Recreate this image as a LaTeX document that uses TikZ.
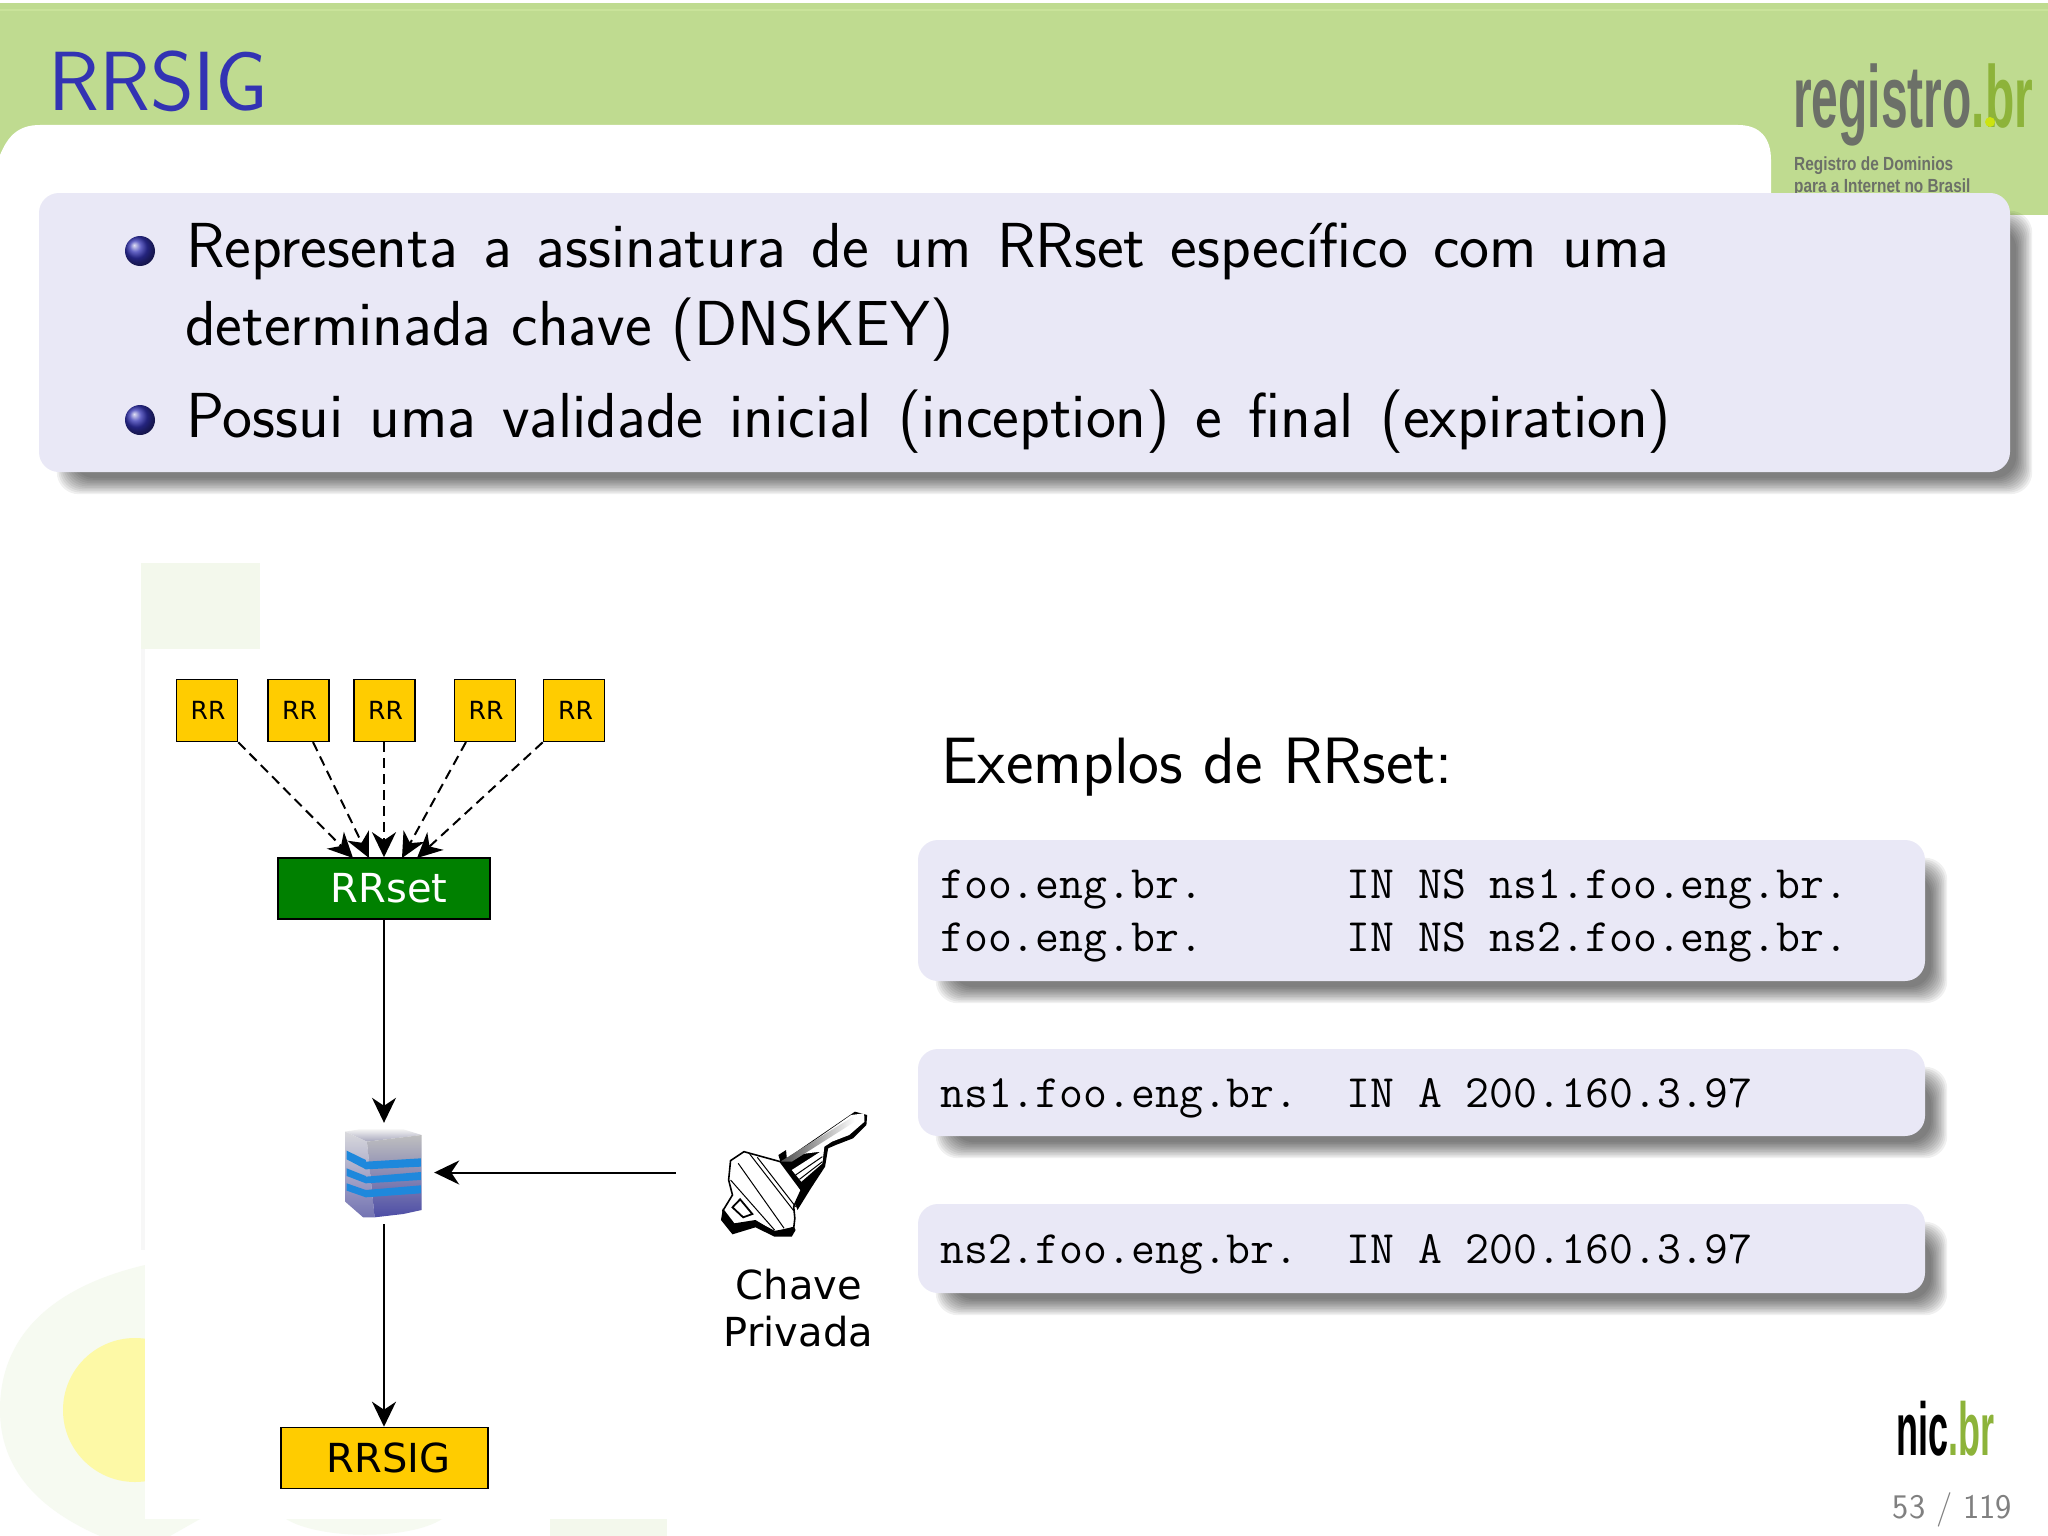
\documentclass[tikz,border=0pt]{standalone}
\usepackage{fontspec}
\usepackage{graphicx}
\usetikzlibrary{arrows.meta,calc}
\newfontfamily\dejavu{DejaVu Sans}
\newfontfamily\logofont{Liberation Sans}
\definecolor{headgreen}{HTML}{BFDB90}
\definecolor{headline}{HTML}{C9E39A}
\definecolor{blockfill}{HTML}{E9E8F6}
\definecolor{titleblue}{HTML}{3333B3}
\definecolor{rryellow}{HTML}{FFCC00}
\definecolor{rrgreen}{HTML}{008000}
\definecolor{logogray}{HTML}{6C7068}
\definecolor{logogreen}{HTML}{8DB33A}
\definecolor{palegreen}{HTML}{F3F8EC}
\definecolor{faintgreen}{HTML}{F6FAF1}
\definecolor{paleyellow}{HTML}{FDF9A6}
\definecolor{stripeblue}{HTML}{1E88DC}
\newcommand{\softshadow}[1]{%
	\foreach \grow in {8,6.4,4.8,3.2,1.6,0,-1.6,-3.2,-4.8,-6.4,-8}
		\fill[black,opacity=0.06,rounded corners=22pt] ($(#1.south west)+(26-\grow,14+\grow)$) rectangle ($(#1.north east)+(14+\grow,26-\grow)$);
}
\begin{document}
\begin{tikzpicture}[x=1pt,y=-1pt]
	\tikzstyle{slide text}=[anchor=base west,inner sep=0,font=\sffamily\fontsize{63.6}{63.6}\selectfont]
	\tikzstyle{code text}=[anchor=base west,inner sep=0,font=\ttfamily\fontsize{46.4}{46.4}\selectfont]
	\tikzset{
		rr node/.style={draw,line width=1.6pt,fill=rryellow,inner sep=0,minimum width=61pt,minimum height=62pt,font=\dejavu\fontsize{25}{25}\selectfont},
		big node/.style={draw,line width=1.6pt,inner sep=0,minimum height=61pt,font=\dejavu\fontsize{40}{40}\selectfont},
		shadow block/.style={fill=blockfill,rounded corners=20pt,inner sep=0},
		link/.style={line width=2pt,-{Stealth[length=25pt,width=24pt,inset=8pt]}},
		dash link/.style={link,dash pattern=on 10pt off 6pt}
	}
	\useasboundingbox (0,0) rectangle (2048,1536);
	\fill[white] (0,0) rectangle (2048,1536);
	% watermark behind the figure
	\fill[faintgreen] (145,1265) .. controls (60,1285) and (0,1330) .. (0,1410) .. controls (0,1470) and (40,1510) .. (100,1536) -- (170,1536) -- (200,1519) -- (145,1519) -- cycle;
	\fill[faintgreen] (286,1519) .. controls (320,1540) and (410,1540) .. (442,1519) -- cycle;
	\fill[paleyellow] (135,1410) circle[radius=72];
	\fill[palegreen] (550,1519) rectangle (667,1536);
	\fill[palegreen] (141,563) rectangle (260,649);
	\fill[white] (145,649) rectangle (900,1519);
	\fill[white!97!black] (141,649) rectangle (145,1250);
	% header
	\fill[headgreen] (0,3) rectangle (2048,215);
	\fill[headline] (0,9) rectangle (2048,11);
	\fill[white] (0,215) -- (0,155) .. controls (8,136) and (18,125) .. (40,125) -- (1738,125) .. controls (1760,125) and (1771,138) .. (1771,160) -- (1771,215) -- cycle;
	\node (title) at (48,111) [anchor=base west,inner sep=0,text=titleblue,font=\sffamily\fontsize{84}{84}\selectfont] {RRSIG};
	\node (registro) at (1793,128) [anchor=base west,inner sep=0,font=\logofont\bfseries\fontsize{88}{88}\selectfont] {\scalebox{0.545}[1]{\textcolor{logogray}{registro}\textcolor{logogreen}{.br}}};
	\fill[yellow!80!green] (1990,122) circle[radius=5];
	\node (regline1) at (1794,171) [anchor=base west,inner sep=0,text=logogray,font=\logofont\bfseries\fontsize{19}{19}\selectfont] {\scalebox{0.81}[1]{Registro de Dominios}};
	\node (regline2) at (1794,192) [anchor=base west,inner sep=0,text=logogray,font=\logofont\bfseries\fontsize{19}{19}\selectfont] {\scalebox{0.81}[1]{para a Internet no Brasil}};
	% top block
	\coordinate (topblock) at (1024.5,332.5);
	\node (topblockshadow) at (topblock) [minimum width=1971pt,minimum height=279pt,inner sep=0] {};
	\softshadow{topblockshadow}
	\node (topblockbox) at (topblock) [shadow block,minimum width=1971pt,minimum height=279pt] {};
	\shade[ball color=titleblue] (140,251) circle[radius=15];
	\shade[ball color=titleblue] (140,420) circle[radius=15];
	\node (line1) at (186,267) [slide text] {\makebox[1483pt][s]{Representa a assinatura de um RRset específico com uma}};
	\node (line2) at (185,345) [slide text] {determinada chave (DNSKEY)};
	\node (line3) at (186,437) [slide text] {\makebox[1485pt][s]{Possui uma validade inicial (inception) e final (expiration)}};
	% figure
	\node (rr1) at (207,710.5) [rr node] {\hspace*{2pt}RR};
	\node (rr2) at (298.5,710.5) [rr node] {\hspace*{2pt}RR};
	\node (rr3) at (384.5,710.5) [rr node] {\hspace*{2pt}RR};
	\node (rr4) at (485,710.5) [rr node] {\hspace*{2pt}RR};
	\node (rr5) at (574,710.5) [rr node] {\hspace*{3pt}RR};
	\node (rrset) at (384,888.5) [big node,fill=rrgreen,text=white,minimum width=212pt] {\hspace*{10pt}RRset};
	\node (rrsig) at (384.5,1458) [big node,fill=rryellow,minimum width=207pt] {\hspace*{8pt}RRSIG};
	\coordinate (tip1) at (353,858);
	\coordinate (tip2) at (369,858);
	\coordinate (tip4) at (402,858);
	\coordinate (tip5) at (417,858);
	\coordinate (tail2) at (313,742);
	\coordinate (tail4) at (466,742);
	\draw[dash link] (rr1.south east)--(tip1);
	\draw[dash link] (tail2)--(tip2);
	\draw[dash link] (rr3.south -| rrset.north)--(rrset.north);
	\draw[dash link] (tail4)--(tip4);
	\draw[dash link] (rr5.south west)--(tip5);
	% stacked cube
	\node (cube) at (384,1172.5) [minimum width=78pt,minimum height=91pt,inner sep=0] {};
	\begin{scope}[shift={(300,1080)},x=0.3827pt,y=-0.3333pt]
		\shade[top color=black!5,bottom color=blue!25!black!35] (118,155)--(155,148)--(270,148)--(318,165)--(175,185)--cycle;
		\shade[top color=blue!10!black!15,bottom color=blue!45!black!55] (118,155)--(175,185)--(195,412)--(165,412)--(118,365)--cycle;
		\shade[top color=black!25,bottom color=blue!50!black!70] (175,185)--(318,165)--(318,390)--(270,402)--(195,412)--cycle;
		\fill[stripeblue] (122,212)--(172,240)--(172,268)--(122,238)--cycle;
		\fill[stripeblue] (122,265)--(172,288)--(172,310)--(122,288)--cycle;
		\fill[stripeblue] (122,310)--(172,330)--(172,352)--(122,332)--cycle;
		\fill[stripeblue] (172,245)--(316,235)--(316,260)--(172,268)--cycle;
		\fill[stripeblue] (172,290)--(316,276)--(316,300)--(172,310)--cycle;
		\fill[stripeblue] (172,330)--(316,316)--(316,340)--(172,352)--cycle;
	\end{scope}
	% key
	\node (key) at (793.5,1174) [minimum width=147pt,minimum height=128pt,inner sep=0] {};
	\begin{scope}[shift={(300,1080)},x=0.3827pt,y=-0.3333pt]
		\fill[black] (1250,225)--(1270,210)--(1272,235)--(1450,95)--(1482,105)--(1480,135)--(1445,175)--(1400,195)--(1380,205)--(1372,260)--(1335,325)--(1300,390)--(1270,300)--cycle;
		\fill[white] (1290,225)--(1440,105)--(1474,100)--(1475,125)--(1435,165)--(1390,185)--(1370,200)--(1365,250)--(1310,305)--(1285,270)--(1360,215)--cycle;
		\shade[left color=black!70,right color=white] (1255,245)--(1445,110)--(1450,125)--(1285,245)--cycle;
		\draw[line width=1pt] (1295,285)--(1365,230);
		\draw[line width=1pt] (1305,298)--(1365,245);
		\draw[black,fill=white,line width=1.6pt] (1160,215)--(1125,242)--(1120,300)--(1130,345)--(1105,392)--(1125,445)--(1190,425)--(1240,455)--(1290,445)--(1293,415)--(1290,380)--(1310,330)--(1255,245)--cycle;
		\fill[black] (1105,385)--(1135,430)--(1190,420)--(1240,455)--(1290,440)--(1295,450)--(1285,470)--(1240,470)--(1190,442)--(1130,463)--(1100,420)--cycle;
		\draw[line width=1.8pt] (1130,382)--(1150,358)--(1182,402)--(1158,412)--cycle;
		\draw[line width=1pt] (1175,222)--(1290,392);
		\draw[line width=1pt] (1195,232)--(1295,380);
		\draw[line width=1pt] (1145,250)--(1265,445);
		\draw[line width=1pt] (1125,300)--(1240,450);
	\end{scope}
	\node (chavetext) at (799,1299) [anchor=base,inner sep=0,font=\dejavu\fontsize{40}{40}\selectfont] {Chave};
	\node (privadatext) at (798.5,1346) [anchor=base,inner sep=0,font=\dejavu\fontsize{40}{40}\selectfont] {Privada};
	\draw[link,shorten >=4pt] (rrset.south)--(cube.north);
	\draw[link,shorten <=44pt,shorten >=11pt] (key.west |- cube.east)--(cube.east);
	\draw[link,shorten <=6pt] (cube.south)--(rrsig.north -| cube.south);
	% examples
	\node (examples) at (941,783) [slide text,font=\sffamily\fontsize{65.5}{65.5}\selectfont] {Exemplos de RRset:};
	\node (block1shadow) at (1421.5,910.5) [minimum width=1007pt,minimum height=141pt,inner sep=0] {};
	\softshadow{block1shadow}
	\node (block1) at (1421.5,910.5) [shadow block,minimum width=1007pt,minimum height=141pt] {};
	\node (block2shadow) at (1421.5,1092.5) [minimum width=1007pt,minimum height=87pt,inner sep=0] {};
	\softshadow{block2shadow}
	\node (block2) at (1421.5,1092.5) [shadow block,minimum width=1007pt,minimum height=87pt] {};
	\node (block3shadow) at (1421.5,1248.5) [minimum width=1007pt,minimum height=89pt,inner sep=0] {};
	\softshadow{block3shadow}
	\node (block3) at (1421.5,1248.5) [shadow block,minimum width=1007pt,minimum height=89pt] {};
	\node (code1) at (940,898) [code text] {foo.eng.br.\ \ \ \ \ \ IN NS ns1.foo.eng.br.};
	\node (code2) at (940,951) [code text] {foo.eng.br.\ \ \ \ \ \ IN NS ns2.foo.eng.br.};
	\node (code3) at (940,1107) [code text] {ns1.foo.eng.br.\ \ IN A 200.160.3.97};
	\node (code4) at (940,1263) [code text] {ns2.foo.eng.br.\ \ IN A 200.160.3.97};
	% footer
	\node (nic) at (1896,1455) [anchor=base west,inner sep=0,font=\logofont\bfseries\fontsize{75}{75}\selectfont] {\scalebox{0.48}[1]{\textcolor{black}{nic}\textcolor{logogreen}{.br}}};
	\node (page) at (2012,1518) [anchor=base east,inner sep=0,text=black!50,font=\sffamily\fontsize{34.5}{34.5}\selectfont] {53 / 119};
\end{tikzpicture}
\end{document}
